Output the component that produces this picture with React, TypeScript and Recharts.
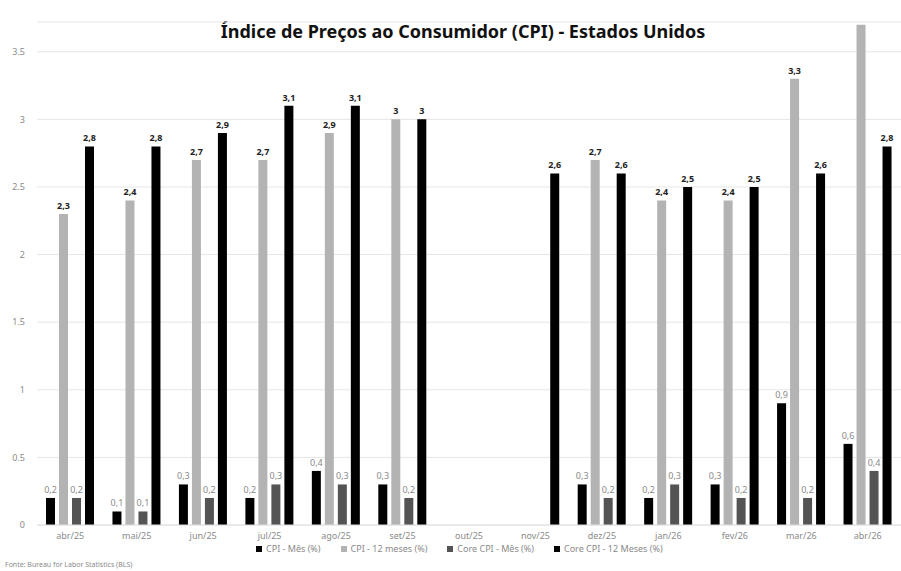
import { Bar, BarChart, CartesianGrid, LabelList, Legend, XAxis, YAxis } from 'recharts'

const months = ['abr/25', 'mai/25', 'jun/25', 'jul/25', 'ago/25', 'set/25', 'out/25', 'nov/25', 'dez/25', 'jan/26', 'fev/26', 'mar/26', 'abr/26']
const cpiMonth = [0.2, 0.1, 0.3, 0.2, 0.4, 0.3, null, null, 0.3, 0.2, 0.3, 0.9, 0.6]
const cpi12m = [2.3, 2.4, 2.7, 2.7, 2.9, 3.0, null, null, 2.7, 2.4, 2.4, 3.3, 3.7]
const coreMonth = [0.2, 0.1, 0.2, 0.3, 0.3, 0.2, null, null, 0.2, 0.3, 0.2, 0.2, 0.4]
const core12m = [2.8, 2.8, 2.9, 3.1, 3.1, 3.0, null, 2.6, 2.6, 2.5, 2.5, 2.6, 2.8]
const yTicks = [0, 0.5, 1, 1.5, 2, 2.5, 3, 3.5]

const series = [
  { key: 'cpiMonth', name: 'CPI - Mês (%)', color: '#000000', strong: false },
  { key: 'cpi12m', name: 'CPI - 12 meses (%)', color: '#b3b3b3', strong: true },
  { key: 'coreMonth', name: 'Core CPI - Mês (%)', color: '#545454', strong: false },
  { key: 'core12m', name: 'Core CPI - 12 Meses (%)', color: '#000000', strong: true },
]

const data = months.map((m, i) => ({
  month: m,
  cpiMonth: cpiMonth[i],
  cpi12m: cpi12m[i],
  coreMonth: coreMonth[i],
  core12m: core12m[i],
}))

const fmt = (v: number) => String(v).replace('.', ',')

function makeLabel(strong: boolean) {
  return (props: any) => {
    const { x, y, width, value } = props
    if (value == null || value > 3.5) return null
    return (
      <text
        x={x + width / 2}
        y={y - 5}
        textAnchor="middle"
        fontSize={9}
        fontWeight={strong ? 700 : 400}
        fill={strong ? '#222' : '#8a8a8a'}
      >
        {fmt(value)}
      </text>
    )
  }
}

function LegendBox() {
  return (
    <div style={{ display: 'flex', gap: 20, fontSize: 9, lineHeight: '10px', color: '#8a8a8a', fontFamily: 'Noto Sans, sans-serif' }}>
      {series.map((s) => (
        <span key={s.key} style={{ display: 'flex', alignItems: 'center', gap: 4 }}>
          <span style={{ width: 6, height: 6, background: s.color, display: 'inline-block' }} />
          {s.name}
        </span>
      ))}
    </div>
  )
}

export default function App() {
  return (
    <div style={{ position: 'absolute', top: 0, left: 0, width: 901, height: 571, background: '#fff', fontFamily: 'Noto Sans, sans-serif' }}>
      <div style={{ position: 'absolute', top: 19, left: 0, width: 926, textAlign: 'center', fontSize: 18, fontWeight: 700, color: '#111' }}>
        Índice de Preços ao Consumidor (CPI) - Estados Unidos
      </div>
      <BarChart
        width={901}
        height={571}
        data={data}
        margin={{ top: 22, right: 0, left: 7, bottom: 0 }}
        barSize={9}
        barGap={4}
      >
        <CartesianGrid stroke="#e6e6e6" vertical={false} />
        <XAxis
          dataKey="month"
          tickLine={false}
          axisLine={{ stroke: '#e0e0e0' }}
          tick={{ fontSize: 9, fill: '#8a8a8a' }}
          height={36}
          interval={0}
        />
        <YAxis
          domain={[0, 3.72]}
          ticks={yTicks}
          tickLine={false}
          axisLine={false}
          width={30}
          tickMargin={6}
          tick={{ fontSize: 9, fill: '#8a8a8a' }}
          allowDataOverflow
        />
        <Legend
          content={<LegendBox />}
          wrapperStyle={{ position: 'absolute', top: 544, left: 256, width: 'auto' }}
        />
        {series.map((s) => (
          <Bar key={s.key} dataKey={s.key} name={s.name} fill={s.color} isAnimationActive={false}>
            <LabelList dataKey={s.key} content={makeLabel(s.strong)} />
          </Bar>
        ))}
      </BarChart>
      <div style={{ position: 'absolute', top: 560, left: 5, fontSize: 7, lineHeight: '9px', color: '#8a8a8a' }}>
        Fonte: Bureau for Labor Statistics (BLS)
      </div>
    </div>
  )
}
